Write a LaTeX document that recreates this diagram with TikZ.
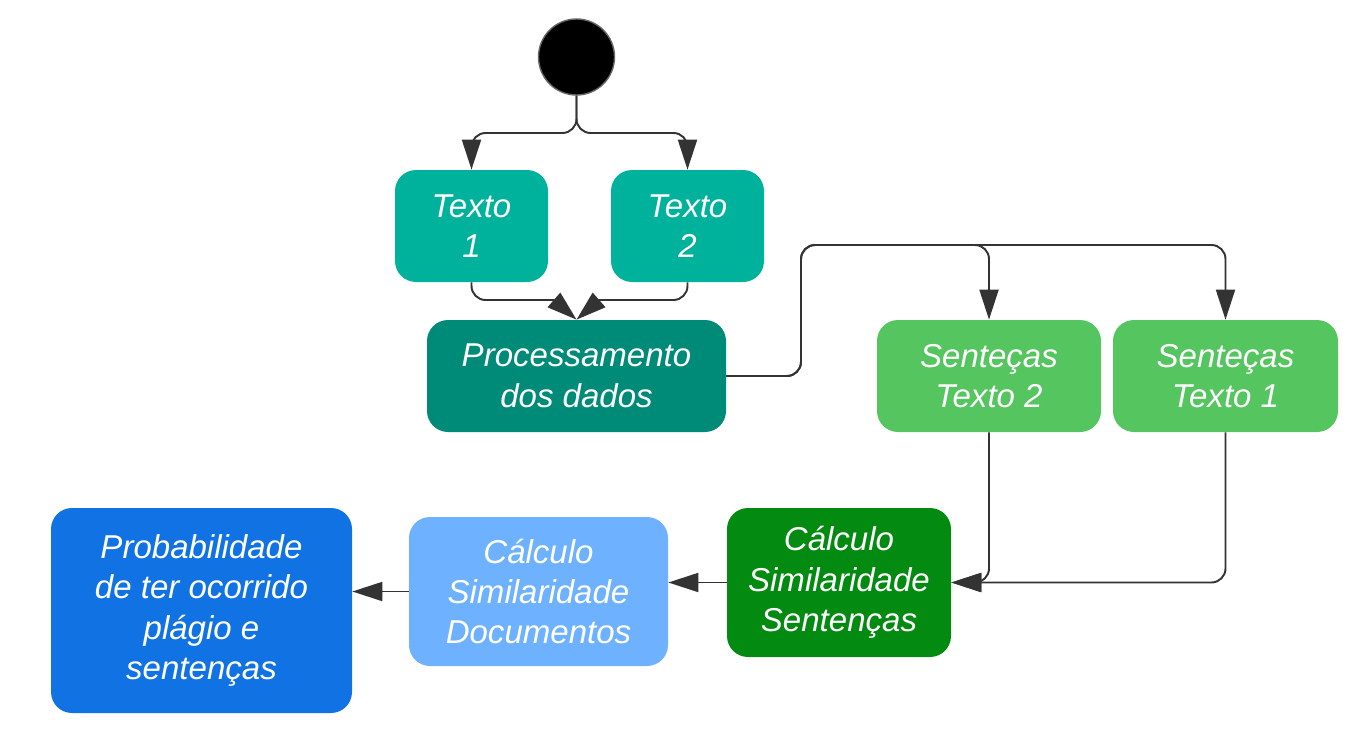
\documentclass[tikz,border=0pt]{standalone}
\usepackage{fontspec}
\setmainfont{Liberation Sans}
\usetikzlibrary{arrows.meta,calc}

\definecolor{textoteal}{HTML}{00B19B}
\definecolor{procteal}{HTML}{008A78}
\definecolor{sentgreen}{HTML}{55C55F}
\definecolor{calcgreen}{HTML}{038A10}
\definecolor{docblue}{HTML}{6DB1FF}
\definecolor{probblue}{HTML}{1172E4}
\definecolor{linegray}{HTML}{333333}

\tikzset{
    box/.style={rounded corners=0.42cm, inner sep=0pt, align=center,
        text=white, font=\fontsize{18.8}{23}\selectfont\itshape},
    conn/.style={draw=linegray, line width=1.1pt, rounded corners=8pt,
        -{Triangle[length=0.6cm,width=0.38cm]}},
    plain/.style={draw=linegray, line width=1.1pt, rounded corners=8pt}
}

\begin{document}
\begin{tikzpicture}
    \useasboundingbox (0,0) rectangle (26.9,-14.58);

    % Start
    \node[circle, fill=black, draw=gray!80!black, line width=0.8pt,
        minimum size=1.52cm, inner sep=0pt] (start) at (11.53,-1.14) {};

    % Nodes
    \node[box, fill=textoteal, minimum width=3.06cm, minimum height=2.24cm]
        (texto1) at (9.43,-4.52) {Texto\\1};
    \node[box, fill=textoteal, minimum width=3.06cm, minimum height=2.24cm]
        (texto2) at (13.75,-4.52) {Texto\\2};
    \node[box, fill=procteal, minimum width=5.98cm, minimum height=2.24cm]
        (proc) at (11.53,-7.52) {Processamento\\dos dados};
    \node[box, fill=sentgreen, minimum width=4.48cm, minimum height=2.24cm]
        (sent2) at (19.78,-7.52) {Senteças\\Texto 2};
    \node[box, fill=sentgreen, minimum width=4.5cm, minimum height=2.24cm]
        (sent1) at (24.51,-7.52) {Senteças\\Texto 1};
    \node[box, fill=calcgreen, minimum width=4.48cm, minimum height=2.98cm]
        (calcsent) at (16.78,-11.65) {Cálculo\\Similaridade\\Sentenças};
    \node[box, fill=docblue, minimum width=5.18cm, minimum height=2.98cm]
        (calcdoc) at (10.77,-11.83) {Cálculo\\Similaridade\\Documentos};
    \node[box, fill=probblue, minimum width=6.02cm, minimum height=4.1cm]
        (prob) at (4.03,-12.21) {Probabilidade\\de ter ocorrido\\plágio e\\sentenças};

    % Junction points
    \coordinate (fork) at (11.53,-2.66);
    \coordinate (mergeL) at (11.08,-6.0);
    \coordinate (mergeR) at (11.98,-6.0);
    \coordinate (bus) at (16.02,-4.9);

    % Connectors
    \draw[conn] (start.south) -- (fork) -| (texto1.north);
    \draw[conn] (start.south) -- (fork) -| (texto2.north);
    \draw[plain] (texto1.south) |- (mergeL);
    \draw[plain] (texto2.south) |- (mergeR);
    \draw[conn] (mergeL) -- (proc.north);
    \draw[conn] (mergeR) -- (proc.north);
    \draw[conn] (proc.east) -| (bus) -| (sent2.north);
    \draw[conn] (proc.east) -| (bus) -| (sent1.north);
    \draw[conn] (sent2.south) |- (calcsent.east);
    \draw[conn] (sent1.south) |- (calcsent.east);
    \draw[conn] (calcsent.west) -- (calcsent.west -| calcdoc.east);
    \draw[conn] (calcdoc.west) -- (calcdoc.west -| prob.east);
\end{tikzpicture}
\end{document}
